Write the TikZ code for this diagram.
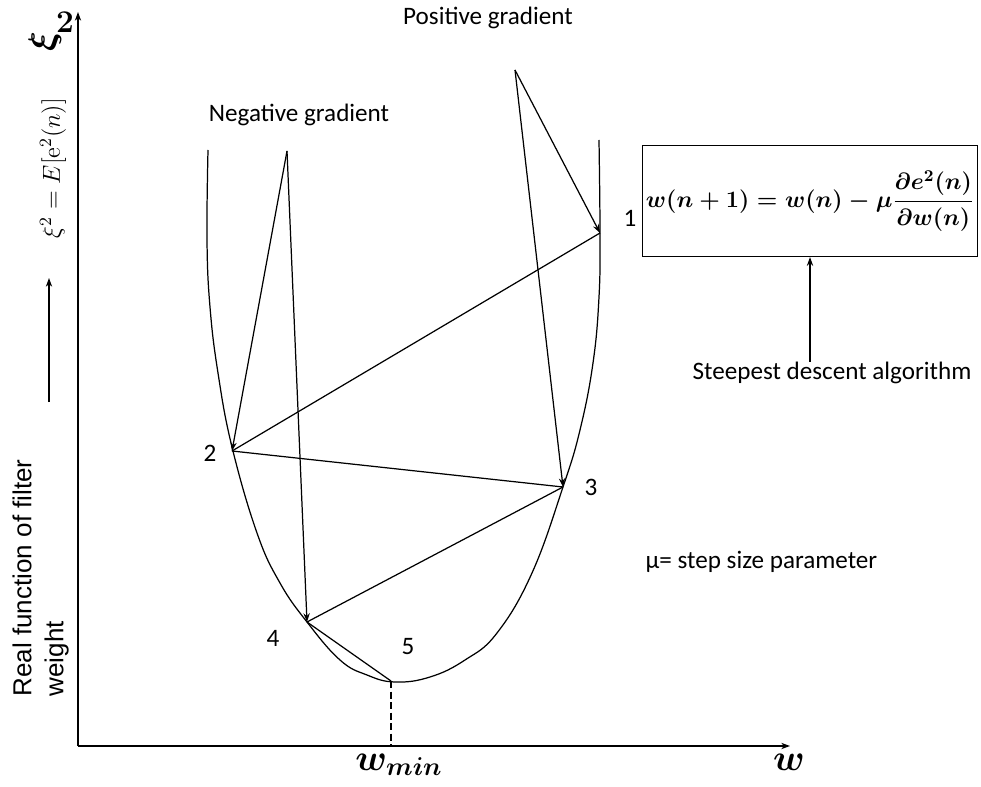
\RequirePackage{fix-cm}
\documentclass[tikz,border=0pt]{standalone}
\usepackage{amsmath}
\usepackage{amssymb}
\usepackage[no-math]{fontspec}
\setmainfont{Carlito}
\newfontfamily\arialfont{Liberation Sans}
\usetikzlibrary{arrows.meta}

\tikzset{
  lbl/.style={font=\fontsize{14.3}{17}\selectfont, inner sep=0pt},
  bigmath/.style={font=\fontsize{21}{25}\selectfont\boldmath, inner sep=0pt},
}

\begin{document}
\begin{tikzpicture}[>={Stealth[length=5pt, width=3.6pt]}, x=0.02cm, y=-0.02cm, line width=0.7pt]
    \useasboundingbox (0,0) rectangle (981,787);

    % axes
    \coordinate (o) at (78,746);
    \coordinate (ytop) at (78,12);
    \coordinate (xend) at (790,746);
    \draw[->] (o) -- (ytop);
    \draw[->] (o) -- (xend);

    % cost curve
    \draw plot[smooth, tension=0.7] coordinates {(208,150) (207,240) (210,307) (218,373) (232,447)
        (257,533) (280,583) (307,622) (340,660) (367,675) (395,682) (430,677) (465,660) (497,633)
        (532,573) (563,487) (580,430) (593,363) (599,297) (600,233) (599,140)};

    % iterates on the curve
    \coordinate (p1) at (600,233);
    \coordinate (p2) at (232,451);
    \coordinate (p3) at (563,487);
    \coordinate (p4) at (307,622);
    \coordinate (p5) at (391,681);
    \coordinate (negtop) at (287,151);
    \coordinate (postop) at (515,70);

    \node[lbl] (n1) at (630,218) {1};
    \node[lbl] (n2) at (210,453) {2};
    \node[lbl] (n3) at (591,487) {3};
    \node[lbl] (n4) at (273,638) {4};
    \node[lbl] (n5) at (408,647) {5};

    \draw[->] (negtop) -- (p2);
    \draw[->] (negtop) -- (p4);
    \draw[->] (postop) -- (p1);
    \draw[->] (postop) -- (p3);
    \foreach \a/\b in {p1/p2, p2/p3, p3/p4, p4/p5} {
        \draw (\a) -- (\b);
    }
    \draw[dash pattern=on 4pt off 2pt] (p5) -- (p5 |- o);

    \node[lbl] (pos) at (488,18) {Positive gradient};
    \node[lbl] (neg) at (299,115) {Negative gradient};

    % update rule
    \node[draw, minimum width=6.7cm, minimum height=2.22cm, inner sep=0pt,
          font=\fontsize{13.4}{16}\selectfont\boldmath] (rule) at (810,201)
          {$\displaystyle w(n+1)=w(n)-\mu\frac{\partial e^{2}(n)}{\partial w(n)}$};
    \node[lbl] (algo) at (832,373) {Steepest descent algorithm};
    \draw[->] (rule.south |- algo.north) -- (rule.south);
    \node[lbl, anchor=west] (mu) at (645,562) {µ= step size parameter};

    % axis labels
    \node[bigmath] (wmin) at (399,765) {$w_{min}$};
    \node[bigmath] (wlbl) at (789,762) {$w$};
    \node[bigmath, rotate=90] (xi) at (45,42) {$\xi$};
    \node[font=\fontsize{18}{22}\selectfont, inner sep=0pt] (two) at (65,22) {$\mathbf{2}$};
    \node[rotate=90, font=\fontsize{14}{17}\selectfont, inner sep=0pt] (cost) at (53,168)
          {$\xi^{2} = E[\mathrm{e}^{2}(n)]$};
    \coordinate (arrbot) at (49,402);
    \coordinate (arrtop) at (49,278);
    \draw[->] (arrbot) -- (arrtop);
    \node[rotate=90, anchor=north west, align=left, inner sep=0pt,
          font=\arialfont\fontsize{14.8}{18.1}\selectfont] (ylbl) at (12,697)
          {Real function of filter\\weight};
\end{tikzpicture}
\end{document}
